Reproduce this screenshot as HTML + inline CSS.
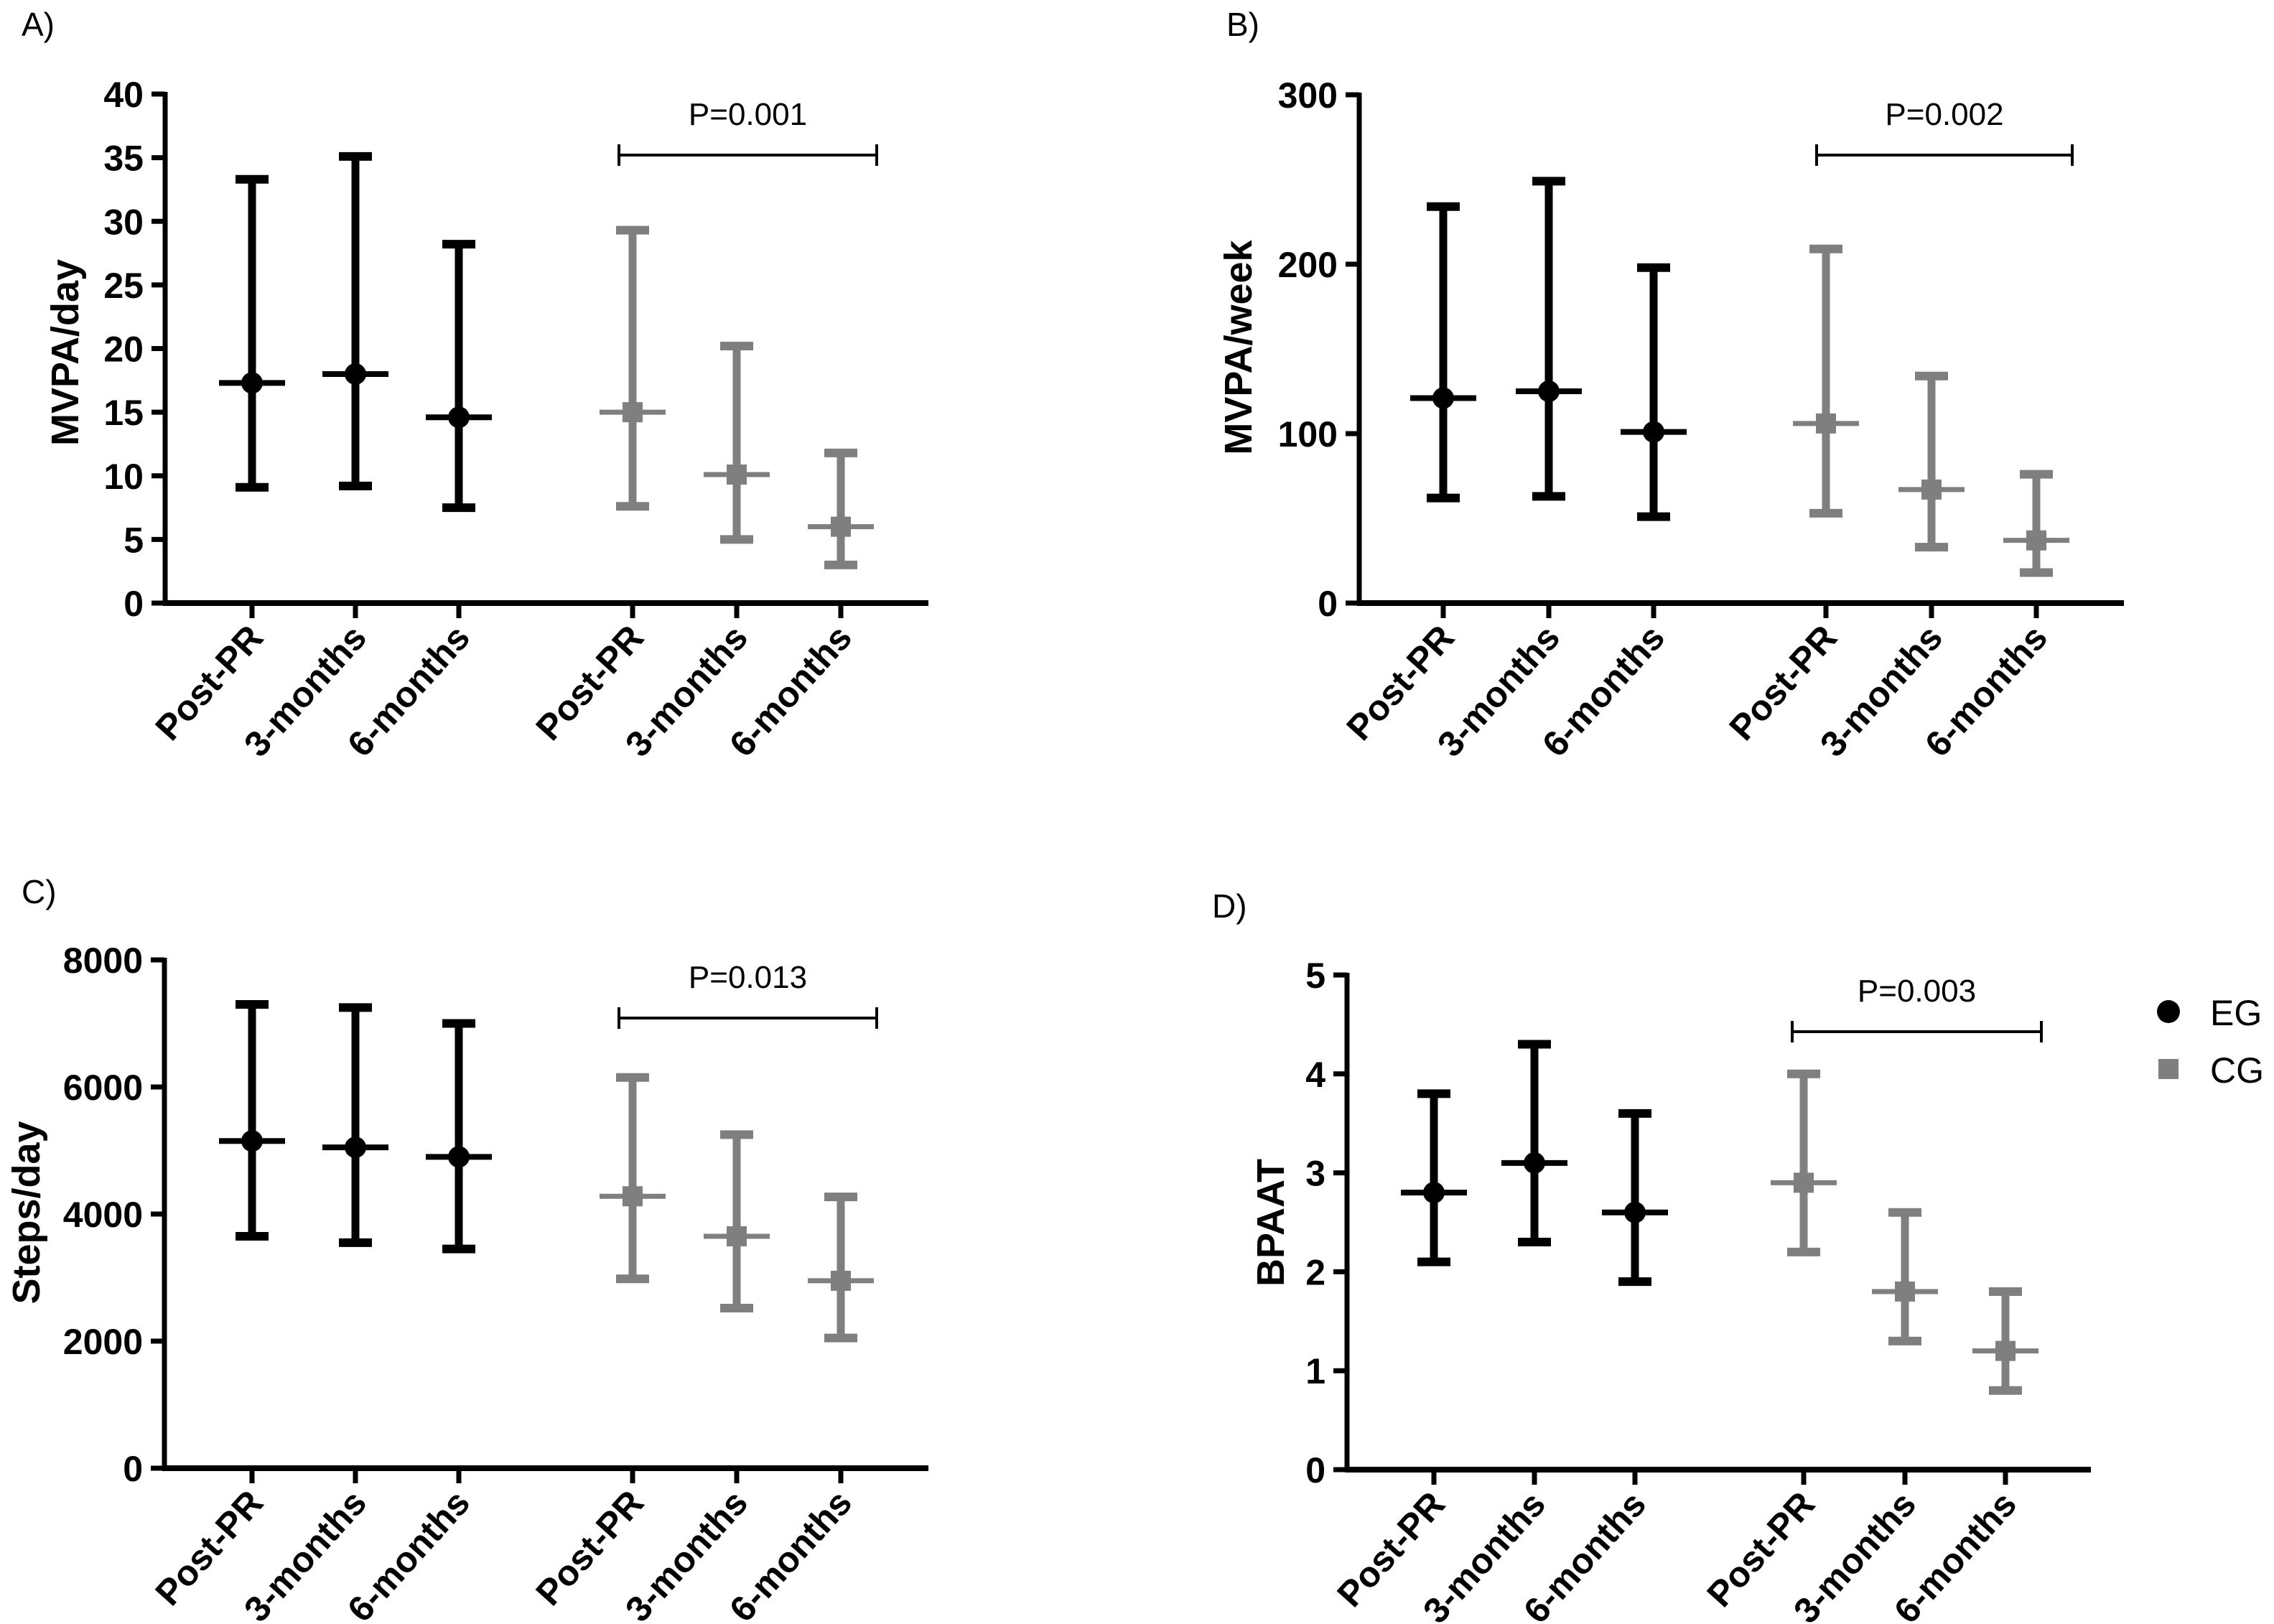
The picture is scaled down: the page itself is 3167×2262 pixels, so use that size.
<!DOCTYPE html>
<html><head><meta charset="utf-8"><style>
html,body{margin:0;padding:0;background:#fff;}
svg{display:block;font-family:"Liberation Sans",sans-serif;}
</style></head><body>
<svg id="fig" width="3167" height="2262" viewBox="0 0 3167 2262" xmlns="http://www.w3.org/2000/svg"></svg>
<script>
const categories = ["Post-PR","3-months","6-months","Post-PR","3-months","6-months"];
const groups = ["EG","EG","EG","CG","CG","CG"];
// Panel A
const aMean = [17.3,18.0,14.6,15.0,10.1,6.0];
const aLow = [9.1,9.2,7.5,7.6,5.0,3.0];
const aHigh = [33.3,35.1,28.2,29.3,20.2,11.8];
const aTicks = [0,5,10,15,20,25,30,35,40];
// Panel B
const bMean = [121,125,101,106,67,37];
const bLow = [62,63,51,53,33,18];
const bHigh = [234,249,198,209,134,76];
const bTicks = [0,100,200,300];
// Panel C
const cMean = [5150,5050,4900,4280,3650,2950];
const cLow = [3650,3550,3450,2980,2520,2050];
const cHigh = [7300,7250,7000,6150,5250,4270];
const cTicks = [0,2000,4000,6000,8000];
// Panel D
const dMean = [2.8,3.1,2.6,2.9,1.8,1.2];
const dLow = [2.1,2.3,1.9,2.2,1.3,0.8];
const dHigh = [3.8,4.3,3.6,4.0,2.6,1.8];
const dTicks = [0,1,2,3,4,5];
const pLabels = ["P=0.001","P=0.002","P=0.013","P=0.003"];

const NS="http://www.w3.org/2000/svg";
const svg=document.getElementById('fig');
function el(tag,attrs,parent){const e=document.createElementNS(NS,tag);for(const k in attrs)e.setAttribute(k,attrs[k]);(parent||svg).appendChild(e);return e;}

const panels=[
 {id:'a',label:'A)',lx:30,ly:50,title:'MVPA/day',tx:91,ty:491,ax:230,y0:840,yTop:131,max:40,xEnd:1293,offs:[121,265,409,651,796,941],mean:aMean,low:aLow,high:aHigh,ticks:aTicks,p:pLabels[0],bx1:862,bx2:1221,by:216},
 {id:'b',label:'B)',lx:1708,ly:50,title:'MVPA/week',tx:1725,ty:484,ax:1893,y0:840,yTop:132,max:300,xEnd:2958,offs:[117,264,410,650,797,943],mean:bMean,low:bLow,high:bHigh,ticks:bTicks,p:pLabels[1],bx1:2530,bx2:2886,by:216},
 {id:'c',label:'C)',lx:30,ly:1258,title:'Steps/day',tx:37,ty:1689,ax:229,y0:2045,yTop:1337,max:8000,xEnd:1293,offs:[122,266,410,652,797,942],mean:cMean,low:cLow,high:cHigh,ticks:cTicks,p:pLabels[2],bx1:862,bx2:1221,by:1418},
 {id:'d',label:'D)',lx:1688,ly:1278,title:'BPAAT',tx:1770,ty:1703,ax:1876,y0:2047,yTop:1358,max:5,xEnd:2912,offs:[121,261,401,636,777,917],mean:dMean,low:dLow,high:dHigh,ticks:dTicks,p:pLabels[3],bx1:2496,bx2:2843,by:1437}
];

panels.forEach(P=>{
  const g=el('g',{});
  
  
  const yS=v=>P.y0-(v/P.max)*(P.y0-P.yTop);
  const xS=i=>P.ax+P.offs[i];
  const lab=el('text',{x:P.lx,y:P.ly,'font-size':46,fill:'#000'},g);lab.textContent=P.label;
  
  
  const ya=el('line',{x1:P.ax,y1:P.yTop-3,x2:P.ax,y2:P.y0+3,stroke:'#000','stroke-width':7},g);
  
  
  const xa=el('line',{x1:P.ax-3,y1:P.y0,x2:P.xEnd,y2:P.y0,stroke:'#000','stroke-width':8},g);
  
  
  P.ticks.forEach(t=>{
    const y=yS(t);
    el('line',{x1:P.ax-19,y1:y,x2:P.ax,y2:y,stroke:'#000','stroke-width':7},g);
    const tl=el('text',{x:P.ax-30,y:y+18,'font-size':50,'font-weight':'bold','text-anchor':'end'},g);
    tl.textContent=t;
    
    
  });
  const tt=el('text',{x:P.tx,y:P.ty,'font-size':54,'font-weight':'bold','text-anchor':'middle','dominant-baseline':'central',transform:`rotate(-90 ${P.tx} ${P.ty})`},g);
  tt.textContent=P.title;
  
  
  categories.forEach((c,i)=>{
    const x=xS(i);
    el('line',{x1:x,y1:P.y0,x2:x,y2:P.y0+21,stroke:'#000','stroke-width':7},g);
    const ax=x+18, ay=P.y0+50;
    const xl=el('text',{x:ax,y:ay,'font-size':50,'font-weight':'bold','text-anchor':'end',transform:`rotate(-48 ${ax} ${ay})`},g);
    xl.textContent=c;
    
    
    const col=groups[i]==='EG'?'#000':'#7f7f7f';
    const eg=el('g',{},g);
    
    
    const yl=yS(P.low[i]),yh=yS(P.high[i]),ym=yS(P.mean[i]);
    el('line',{x1:x,y1:yh,x2:x,y2:yl,stroke:col,'stroke-width':11},eg);
    el('line',{x1:x-23,y1:yh,x2:x+23,y2:yh,stroke:col,'stroke-width':12},eg);
    el('line',{x1:x-23,y1:yl,x2:x+23,y2:yl,stroke:col,'stroke-width':12},eg);
    el('line',{x1:x-46,y1:ym,x2:x+46,y2:ym,stroke:col,'stroke-width':groups[i]==='EG'?8:7},eg);
    if(groups[i]==='EG') el('circle',{cx:x,cy:ym,r:15,fill:col},eg);
    else el('rect',{x:x-14,y:ym-14,width:28,height:28,fill:col},eg);
  });
  const br=el('g',{},g);
  
  
  el('line',{x1:P.bx1,y1:P.by,x2:P.bx2,y2:P.by,stroke:'#000','stroke-width':4},br);
  el('line',{x1:P.bx1,y1:P.by-15,x2:P.bx1,y2:P.by+15,stroke:'#000','stroke-width':4},br);
  el('line',{x1:P.bx2,y1:P.by-15,x2:P.bx2,y2:P.by+15,stroke:'#000','stroke-width':4},br);
  const pt=el('text',{x:(P.bx1+P.bx2)/2,y:P.by-42,'font-size':44,'text-anchor':'middle'},br);
  pt.textContent=P.p;
  
  
});
const lg=el('g',{});


const le1=el('g',{},lg);


el('circle',{cx:3020,cy:1409,r:16,fill:'#000'},le1);
const t1=el('text',{x:3078,y:1428,'font-size':50},le1);t1.textContent='EG';
const le2=el('g',{},lg);


el('rect',{x:3006,y:1475,width:28,height:28,fill:'#7f7f7f'},le2);
const t2=el('text',{x:3078,y:1508,'font-size':50},le2);t2.textContent='CG';
</script>
</body></html>
